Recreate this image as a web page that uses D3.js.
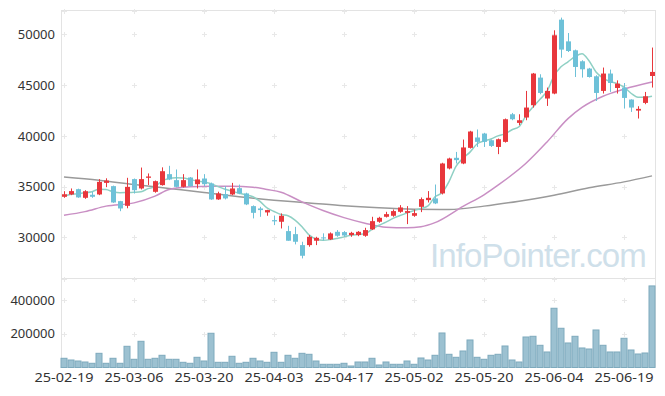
<!DOCTYPE html>
<html>
<head>
<meta charset="utf-8">
<script src="https://cdn.jsdelivr.net/npm/d3@7"></script>
<style>
  body { margin: 0; background: #fff; }
</style>
</head>
<body>
<script>
// candlestick chart with 5 / 20 / 60 day moving averages and volume

// trading days
const dates = [
  "25-02-19","25-02-20","25-02-21","25-02-24","25-02-25","25-02-26","25-02-27","25-02-28","25-03-04","25-03-05",
  "25-03-06","25-03-07","25-03-10","25-03-11","25-03-12","25-03-13","25-03-14","25-03-17","25-03-18","25-03-19",
  "25-03-20","25-03-21","25-03-24","25-03-25","25-03-26","25-03-27","25-03-28","25-03-31","25-04-01","25-04-02",
  "25-04-03","25-04-04","25-04-07","25-04-08","25-04-09","25-04-10","25-04-11","25-04-14","25-04-15","25-04-16",
  "25-04-17","25-04-18","25-04-21","25-04-22","25-04-23","25-04-24","25-04-25","25-04-28","25-04-29","25-04-30",
  "25-05-02","25-05-07","25-05-08","25-05-09","25-05-12","25-05-13","25-05-14","25-05-15","25-05-16","25-05-19",
  "25-05-20","25-05-21","25-05-22","25-05-23","25-05-26","25-05-27","25-05-28","25-05-29","25-05-30","25-06-02",
  "25-06-04","25-06-05","25-06-09","25-06-10","25-06-11","25-06-12","25-06-13","25-06-16","25-06-17","25-06-18",
  "25-06-19","25-06-20","25-06-23","25-06-24","25-06-25"
];

const open = [
  34000,34230,34750,33900,34200,34230,35370,35050,33570,33110,
  35740,34820,35870,34490,35150,36230,35640,34980,35900,35240,
  35800,35310,33740,34260,34230,34850,34330,33080,32850,32460,
  31700,31540,30620,30320,29240,29240,29670,30000,29800,30550,
  30520,30230,30230,30160,30790,31540,32030,32130,32520,32420,
  32130,33010,33670,33840,34330,36790,37840,37280,38820,39840,
  40230,39570,38910,39410,42130,41280,41810,43020,45740,43680,
  44170,51450,49310,48430,47350,46630,45870,44430,46140,44720,
  44760,43580,42490,43250,45900
];
const high = [
  34550,34820,34800,34650,34500,35740,35820,35100,33600,35870,
  35800,36880,36300,35600,36900,37050,36690,36230,35950,36690,
  36230,35400,34500,35050,35370,35200,34400,33150,33010,32720,
  32150,32360,31140,31040,29570,30230,30060,30400,30490,30720,
  30620,30550,30620,30950,32030,32030,32520,32750,33180,33080,
  32750,33930,34560,35210,37350,37850,38420,39640,40500,40630,
  40300,39640,39740,41710,42260,42130,44430,46200,46070,44760,
  50400,51650,50130,48500,47450,46700,45970,46730,46530,45470,
  45210,43600,42920,44330,48700
];
const low = [
  33900,34160,33900,33800,33900,34160,34950,33400,32580,32870,
  34320,34720,35160,34400,35100,35640,34920,34920,35000,34820,
  35050,33700,33700,33740,34160,34260,33180,31870,32030,32130,
  31210,30880,29670,29310,27930,29080,29240,29700,29740,30060,
  30060,30060,30120,30060,30720,31440,31960,32030,32420,31310,
  32030,32490,33440,33280,34230,36700,37280,37210,38750,38910,
  38910,38910,38200,39340,41540,41050,41540,42790,44100,42950,
  44100,47700,48260,45800,45740,45740,43440,44170,44330,44170,
  42690,42360,41710,43120,44760
];
const close = [
  34250,34560,33940,34550,34000,35470,35600,33440,32850,34980,
  34650,35740,36000,35540,36520,35710,34980,35640,35050,35710,
  35240,33740,34330,33840,34820,34330,33250,32420,32690,32690,
  31580,32130,29670,29570,28190,30060,29960,29900,30390,30160,
  30190,30450,30550,30720,31600,31930,32290,32590,32950,32590,
  32390,33770,33900,33350,37280,37770,37610,38860,40430,39410,
  39410,39010,39670,41640,41640,41540,42790,46140,44230,44430,
  49910,48500,48360,46790,46560,45800,44230,46140,45210,45150,
  43740,42790,42660,43900,46300
];
const volume = [
  54500,44400,38500,32600,24900,84000,24900,54500,24900,125600,
  48600,155200,48600,54500,72300,48600,48600,30800,24900,60400,
  38500,202700,30800,30800,66400,24900,30800,54500,38500,30800,
  90000,30800,72300,54500,84000,78200,38500,19000,19000,19000,
  24900,8900,32600,32600,54500,14800,32600,19000,19000,38500,
  19000,56300,44400,72300,204400,78200,60400,97800,163000,60400,
  48600,72300,78200,127400,44400,32600,180700,184800,131500,91900,
  350800,232300,145200,184800,115600,109600,222200,131500,91900,91900,
  173000,103700,80000,85900,483000
];

// moving averages
const ma5 = [
  34050,34250,34300,34400,34500,34750,34720,34500,34400,34420,
  34450,34500,34800,35000,35550,35800,35880,35850,35710,35550,
  35450,35300,35000,34750,34550,34350,34200,34000,33550,32900,
  32550,32250,32130,31700,31050,30250,29850,29730,29780,29900,
  30050,30200,30280,30350,30800,31200,31500,31870,32150,32400,
  32650,32850,33100,34000,34400,35500,37000,37800,38400,39200,
  39500,39700,40000,40200,40600,40900,42000,42850,43600,44400,
  45900,46800,47300,47800,48100,47400,46300,45700,45350,45150,
  44800,44200,43800,43800,43900
];
const ma20Idx = [0, 3, 6, 10, 13, 15, 18, 21, 24, 27, 29, 31, 34, 37, 40, 43, 46, 49, 51, 53, 57, 60, 62, 66, 69, 72, 74, 77, 80, 84];
const ma20 = [32190,32540,33080,33400,34060,34720,35000,35050,35050,34950,34720,34450,33500,32650,31950,31400,31000,30950,31050,31450,33050,34200,35150,37300,39400,41700,42800,43900,44600,45300];
const ma60Idx = [0, 5, 10, 15, 20, 25, 30, 35, 40, 45, 50, 55, 60, 65, 70, 75, 80, 84];
const ma60 = [35960,35640,35210,34820,34430,34000,33670,33400,33110,32910,32780,32750,33080,33570,34160,34880,35470,36060];

const priceTicks = [30000, 35000, 40000, 45000, 50000];
const volumeTicks = [200000, 400000];
const dateTicks = ["25-02-19","25-03-06","25-03-20","25-04-03","25-04-17","25-05-02","25-05-20","25-06-04","25-06-19"];

const width = 665;
const height = 396;
const plotLeft = 60.5, plotRight = 655.5;
const plotTop = 10, plotSplit = 278, plotBottom = 367.5;

const upColor = "#e8373c";
const downColor = "#6ec1d8";

const svg = d3.select("body")
    .append("svg")
    .attr("width", width)
    .attr("height", height);

svg.append("rect").attr("width", width).attr("height", height).attr("fill", "#fff");

const x = d3.scaleBand()
    .domain(dates)
    .range([plotLeft, plotRight]);
const cx = d => x(d) + x.bandwidth() / 2;

const y = d3.scaleLinear()
    .domain([26000, 52400])
    .range([plotSplit, plotTop]);

const yv = d3.scaleLinear()
    .domain([0, 530000])
    .range([plotBottom, plotSplit]);

// frame
const frame = svg.append("g").attr("stroke", "#e3e3e3").attr("fill", "none");
frame.append("line").attr("x1", 61.5).attr("x2", 61.5).attr("y1", plotTop).attr("y2", plotBottom);
frame.append("line").attr("x1", 655.5).attr("x2", 655.5).attr("y1", plotTop).attr("y2", plotBottom);
frame.append("line").attr("x1", 61.5).attr("x2", 655.5).attr("y1", plotTop + 0.5).attr("y2", plotTop + 0.5);
frame.append("line").attr("x1", 61.5).attr("x2", 655.5).attr("y1", plotSplit + 0.5).attr("y2", plotSplit + 0.5);

// little cross markers where the grid lines would meet
const crossY = [plotTop + 0.5, ...priceTicks.map(y), plotSplit + 0.5, ...volumeTicks.map(yv)];
const crosses = [];
dateTicks.forEach(d => crossY.forEach(yy => crosses.push([Math.round(cx(d)) + 0.5, Math.round(yy) + 0.5])));
svg.append("g")
    .selectAll("path")
    .data(crosses)
    .join("path")
    .attr("d", d => `M${d[0] - 2.5},${d[1]}H${d[0] + 2.5}M${d[0]},${d[1] - 2.5}V${d[1] + 2.5}`)
    .attr("stroke", "#e8e8e8")
    .attr("stroke-width", 1);

// axes
const yAxis = svg.append("g")
    .attr("transform", "translate(55,0)")
    .call(d3.axisLeft(y).tickValues(priceTicks).tickSize(0).tickPadding(0).tickFormat(d3.format("d")));
const vAxis = svg.append("g")
    .attr("transform", "translate(55,0)")
    .call(d3.axisLeft(yv).tickValues(volumeTicks).tickSize(0).tickPadding(0).tickFormat(d3.format("d")));
const xAxis = svg.append("g")
    .attr("transform", `translate(0,${plotBottom + 2})`)
    .call(d3.axisBottom(x).tickValues(dateTicks).tickSize(0).tickPadding(0));
[yAxis, vAxis, xAxis].forEach(g => {
    g.select(".domain").remove();
    g.attr("font-family", "'Noto Sans', sans-serif").attr("font-size", 13);
    g.selectAll("text").attr("fill", "#333");
});
xAxis.selectAll("text")
    .attr("dy", "0.95em")
    .attr("textLength", 59)
    .attr("lengthAdjust", "spacingAndGlyphs");

// watermark
svg.append("text")
    .attr("x", 430)
    .attr("y", 267)
    .style("font-family", "'Liberation Sans', Arial, sans-serif")
    .style("font-size", "33px")
    .style("letter-spacing", "-0.9px")
    .attr("fill", "#cfe0ea")
    .text("InfoPointer.com");

// volume bars
svg.append("g")
    .selectAll("rect")
    .data(dates)
    .join("rect")
    .attr("x", d => cx(d) - 3)
    .attr("width", 6)
    .attr("y", (d, i) => yv(volume[i]))
    .attr("height", (d, i) => plotBottom - yv(volume[i]))
    .attr("fill", "#9cc1d1")
    .attr("stroke", "#7eaabd")
    .attr("stroke-width", 1);

// moving average lines
const line = d3.line()
    .x(d => cx(dates[d[0]]))
    .y(d => y(d[1]))
    .curve(d3.curveMonotoneX);

svg.append("path")
    .datum(ma60Idx.map((d, i) => [d, ma60[i]]))
    .attr("fill", "none")
    .attr("stroke", "#9a9a9a")
    .attr("stroke-width", 1.5)
    .attr("d", line);

svg.append("path")
    .datum(ma20Idx.map((d, i) => [d, ma20[i]]))
    .attr("fill", "none")
    .attr("stroke", "#c98fc4")
    .attr("stroke-width", 1.5)
    .attr("d", line);

svg.append("path")
    .datum(ma5.map((d, i) => [i, d]))
    .attr("fill", "none")
    .attr("stroke", "#8fd0c4")
    .attr("stroke-width", 1.5)
    .attr("d", line);

// candles
const candles = svg.append("g")
    .selectAll("g")
    .data(dates)
    .join("g")
    .attr("fill", (d, i) => close[i] >= open[i] ? upColor : downColor)
    .attr("stroke", (d, i) => close[i] >= open[i] ? upColor : downColor);

candles.append("line")
    .attr("x1", d => Math.round(cx(d)) + 0.5)
    .attr("x2", d => Math.round(cx(d)) + 0.5)
    .attr("y1", (d, i) => y(high[i]))
    .attr("y2", (d, i) => y(low[i]))
    .attr("stroke-width", 1);

candles.append("rect")
    .attr("x", d => Math.round(cx(d)) - 2)
    .attr("width", 5)
    .attr("y", (d, i) => y(Math.max(open[i], close[i])))
    .attr("height", (d, i) => Math.max(1, Math.abs(y(open[i]) - y(close[i]))))
    .attr("stroke", "none");
</script>
</body>
</html>
